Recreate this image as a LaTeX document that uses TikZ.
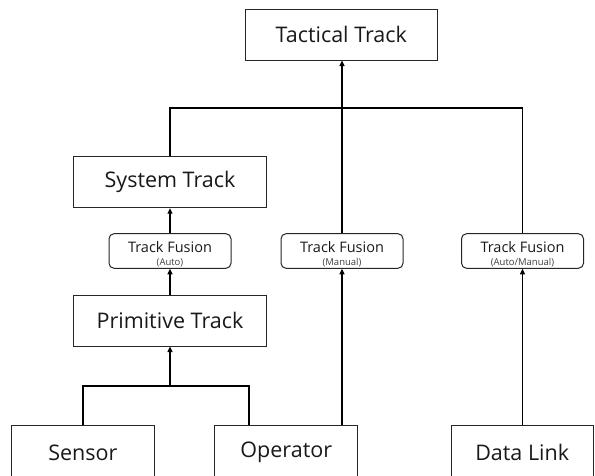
\documentclass[tikz,border=0pt]{standalone}
\usepackage{fontspec}
\setmainfont{Open Sans}
\usetikzlibrary{arrows.meta}
\tikzset{
  box/.style={draw=black!85, line width=1pt, inner sep=0pt, text=black!90,
    font=\fontsize{21.5}{24}\selectfont},
  fusion/.style={draw=black!85, line width=1pt, rounded corners=5pt, inner sep=0pt,
    minimum width=122pt, minimum height=34.5pt, text=black!90},
  link/.style={draw=black, line width=1.8pt},
  arr/.style={link, -{Triangle[length=5.5pt,width=5pt]}}
}
% two-line fusion label with fixed baselines, set a little below the centre
\newcommand{\fusionlabel}[1]{\raisebox{-6.5pt}[0pt][0pt]{\begin{tabular}{@{}c@{}}%
  \fontsize{14.5}{12.5}\selectfont Track Fusion\\[1.3pt]
  \fontsize{9.5}{12.5}\selectfont\color{black!75}(#1)%
  \end{tabular}}}
\begin{document}
\begin{tikzpicture}[x=1pt,y=-1pt]
  \fill[white] (0,0) rectangle (595,476);
  \clip (0,0) rectangle (595,476);

  % top level
  \node[box, minimum width=191.4pt, minimum height=50.3pt] (tac) at (341.3,34.9) {Tactical Track};

  % left column
  \node[box, minimum width=193.4pt, minimum height=51pt] (sys) at (170,182.2) {System Track};
  \node[fusion] (fa) at (170,251) {\fusionlabel{Auto}};
  \node[box, minimum width=193.4pt, minimum height=51pt] (prim) at (170,320.5) {Primitive Track};

  % middle and right fusion stages
  \node[fusion] (fm) at (342,251) {\fusionlabel{Manual}};
  \node[fusion] (fam) at (522.5,251) {\fusionlabel{Auto/Manual}};

  % sources (boxes run past the lower edge)
  \node[box, minimum width=142.3pt, minimum height=54pt] (sen) at (82.9,452.7) {Sensor};
  \node[box, minimum width=142.7pt, minimum height=54pt] (op) at (286.3,452.7) {Operator};
  \node[box, minimum width=142pt, minimum height=54pt] (dl) at (522.2,452.7) {Data Link};

  % bus into the tactical track
  \coordinate (busL) at (170,108.3);
  \coordinate (busR) at (522.5,108.3);
  \draw[link] (sys.north) -- (busL) -- (busR) -- (fam.north);
  \draw[arr] (fm.north) -- (fm.north |- tac.south);

  % left chain
  \draw[arr] (fa.north) -- (sys.south);
  \draw[arr] (prim.north) -- (fa.south);

  % sensor / operator merge
  \coordinate (sb) at (83,385.7);
  \coordinate (ob) at (249,385.7);
  \coordinate (mb) at (170,385.7);
  \draw[link] (sen.north -| sb) -- (sb) -- (ob) -- (op.north -| ob);
  \draw[arr] (mb) -- (prim.south);

  % operator and data link feeds
  \draw[arr] (op.north -| fm.south) -- (fm.south);
  \draw[arr] (dl.north -| fam.south) -- (fam.south);
\end{tikzpicture}
\end{document}
